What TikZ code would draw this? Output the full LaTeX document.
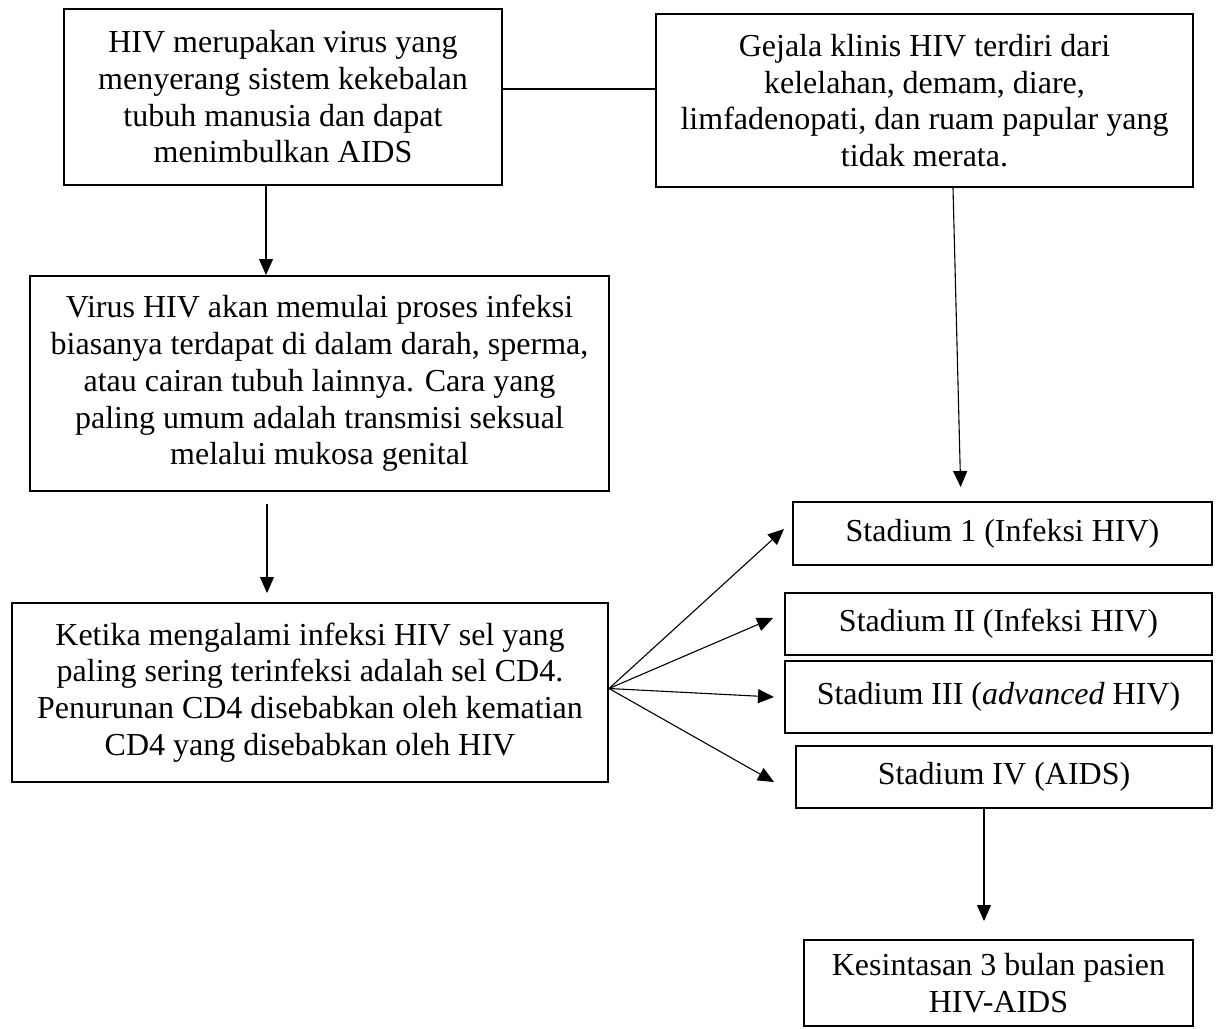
\documentclass[tikz,border=0pt]{standalone}
\usepackage{fontspec}
\setmainfont{Liberation Serif}
\usetikzlibrary{arrows.meta,calc}
\begin{document}
\begin{tikzpicture}[x=1pt,y=-1pt,
  box/.style={draw, line width=2pt, align=center, inner sep=0pt,
    font=\fontsize{32}{36.7}\selectfont},
  conn/.style={line width=1.1pt},
  arr/.style={conn, -{Triangle[width=14pt,length=16pt]}}]
\useasboundingbox (0,0) rectangle (1217,1028);

\node[box, minimum width=438pt, minimum height=176pt] (A) at (283,97)
  {HIV merupakan virus yang\\menyerang sistem kekebalan\\tubuh manusia dan dapat\\menimbulkan AIDS};
\node[box, minimum width=537pt, minimum height=173pt] (B) at (924.5,100.5)
  {Gejala klinis HIV terdiri dari\\kelelahan, demam, diare,\\limfadenopati, dan ruam papular yang\\tidak merata.};
\node[box, minimum width=579pt, minimum height=215pt] (C) at (319.5,383.5)
  {Virus HIV akan memulai proses infeksi\\biasanya terdapat di dalam darah, sperma,\\atau cairan tubuh lainnya. Cara yang\\paling umum adalah transmisi seksual\\melalui mukosa genital};
\node[box, minimum width=596pt, minimum height=179pt] (D) at (310,692.5)
  {Ketika mengalami infeksi HIV sel yang\\paling sering terinfeksi adalah sel CD4.\\Penurunan CD4 disebabkan oleh kematian\\CD4 yang disebabkan oleh HIV};
\node[box, minimum width=419pt, minimum height=63pt] (E) at (1002.5,533.5)
  {Stadium 1 (Infeksi HIV)};
\node[box, minimum width=427pt, minimum height=62pt] (F) at (998.5,624)
  {Stadium II (Infeksi HIV)};
\node[box, minimum width=427pt, minimum height=72pt] (G) at (998.5,697)
  {Stadium III (\textit{advanced} HIV)};
\node[box, minimum width=416pt, minimum height=62pt] (H) at (1004,777)
  {Stadium IV (AIDS)};
\node[box, minimum width=389pt, minimum height=86pt] (I) at (998.5,983)
  {Kesintasan 3 bulan pasien\\HIV-AIDS};

\coordinate (ly) at (0,89);
\coordinate (ax) at (266,0);
\coordinate (cx) at (267,0);
\coordinate (bx) at (953,0);
\coordinate (ex) at (961,0);
\coordinate (hx) at (984,0);
\coordinate (fan) at ($(D.east)+(0,-4)$);

\draw[conn] (A.east |- ly) -- (B.west |- ly);
\draw[arr] (A.south -| ax) -- (C.north -| ax);
\draw[arr, shorten <=12pt, shorten >=9pt] (C.south -| cx) -- (D.north -| cx);
\draw[arr, shorten >=14pt] (B.south -| bx) -- (E.north -| ex);
\draw[arr] (fan) -- ($(E.west)+(-8,-4.5)$);
\draw[arr] (fan) -- ($(F.west)+(-11,-6)$);
\draw[arr] (fan) -- ($(G.west)+(-10,0)$);
\draw[arr] (fan) -- ($(H.west)+(-21,5)$);
\draw[arr, shorten >=18pt] (H.south -| hx) -- (I.north -| hx);
\end{tikzpicture}
\end{document}
